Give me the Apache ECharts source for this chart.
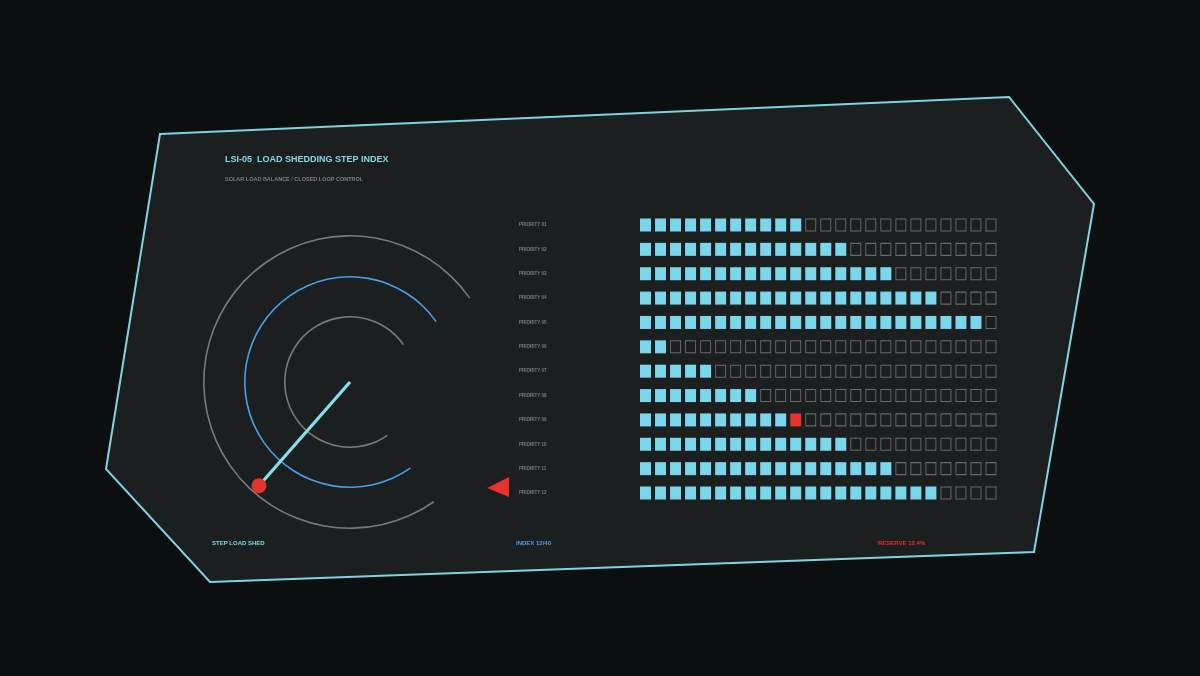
<!DOCTYPE html>
<html>
<head>
<meta charset="utf-8">
<script src="https://cdn.jsdelivr.net/npm/echarts@6/dist/echarts.min.js"></script>
<style>
html,body{margin:0;padding:0;background:#0b0f10;}
#chart{width:1200px;height:676px;}
</style>
</head>
<body>
<div id="chart"></div>
<script>
// ---- data ----
const rowLabels = ['PRIORITY 01','PRIORITY 02','PRIORITY 03','PRIORITY 04','PRIORITY 05','PRIORITY 06','PRIORITY 07','PRIORITY 08','PRIORITY 09','PRIORITY 10','PRIORITY 11','PRIORITY 12'];
const stepCount = 24;
const filledSteps = [11,14,17,20,23,2,5,8,11,14,17,20];
const alertRow = 8;          // PRIORITY 09
const alertStep = 10;        // 11th step (0-based 10)
const gaugeMax = 40;
const needleValue = 11.3;
const titleText = 'LSI-05  LOAD SHEDDING STEP INDEX';
const subtitleText = 'SOLAR LOAD BALANCE / CLOSED LOOP CONTROL';
const footerLeft = 'STEP LOAD SHED';
const footerMid = 'INDEX 12/40';
const footerRight = 'RESERVE 12.4%';

// ---- build ----
const filledData = [], emptyData = [], alertData = [];
rowLabels.forEach((lab, r) => {
  for (let c = 0; c < stepCount; c++) {
    if (r === alertRow && c === alertStep) alertData.push([c, lab]);
    else if (c < filledSteps[r]) filledData.push([c, lab]);
    else emptyData.push([c, lab]);
  }
});

const CYAN = '#7ad6ea';
const chart = echarts.init(document.getElementById('chart'));

function arcGauge(radius, color) {
  return {
    type: 'gauge', center: [350, 382], radius: radius,
    startAngle: 305, endAngle: 35, min: 0, max: gaugeMax,
    silent: true, animation: false,
    axisLine: { lineStyle: { width: 1.6, color: [[1, color]] } },
    axisTick: { show: false }, splitLine: { show: false }, axisLabel: { show: false },
    pointer: { show: false }, anchor: { show: false }, title: { show: false }, detail: { show: false },
    data: [{ value: 0 }]
  };
}

const option = {
  backgroundColor: '#0b0f10',
  animation: false,
  graphic: [
    { type: 'polygon', z: 0, shape: { points: [[160,134],[1009,97],[1094,204],[1034,552],[210,582],[106,469]] },
      style: { fill: '#1b1f1f', stroke: '#7fd3e2', lineWidth: 2 } },
    { type: 'polygon', z: 5, shape: { points: [[487,488],[509,477],[509,497]] }, style: { fill: '#e5322a' } },
    { type: 'text', z: 5, left: 225, top: 155, style: { text: titleText, fill: '#80d8e8', font: 'bold 9px "Liberation Sans"' } },
    { type: 'text', z: 5, left: 225, top: 176, style: { text: subtitleText, fill: '#7c7f80', font: 'bold 5.5px "Liberation Sans"' } },
    { type: 'text', z: 5, left: 212, top: 540, style: { text: footerLeft, fill: '#80d8e8', font: 'bold 6px "Liberation Sans"' } },
    { type: 'text', z: 5, left: 516, top: 540, style: { text: footerMid, fill: '#4aa0e6', font: 'bold 6px "Liberation Sans"' } },
    { type: 'text', z: 5, left: 878, top: 540, style: { text: footerRight, fill: '#e5322a', font: 'bold 6px "Liberation Sans"' } }
  ],
  grid: { left: 638, right: 1200 - 998.5, top: 212.8, bottom: 676 - 505.2 },
  xAxis: { type: 'value', min: -0.5, max: stepCount - 0.5, show: false },
  yAxis: {
    type: 'category', data: rowLabels, inverse: true,
    axisLine: { show: false }, axisTick: { show: false }, splitLine: { show: false },
    axisLabel: { align: 'left', margin: 119, padding: [5, 0, 0, 0], color: '#7c7f80', fontSize: 4.5, fontWeight: 'bold', fontFamily: 'Liberation Sans' }
  },
  series: [
    { type: 'scatter', data: emptyData, symbol: 'rect', symbolSize: [10, 12], z: 3,
      itemStyle: { color: 'rgba(0,0,0,0)', borderColor: '#6a6c6c', borderWidth: 1, opacity: 1 }, silent: true },
    { type: 'scatter', data: filledData, symbol: 'rect', symbolSize: [11, 13], z: 3,
      itemStyle: { color: CYAN, opacity: 1 }, silent: true },
    { type: 'scatter', data: alertData, symbol: 'rect', symbolSize: [11, 13], z: 3,
      itemStyle: { color: '#e5322a', opacity: 1 }, silent: true },
    arcGauge(147, '#7a7a7a'),
    arcGauge(106, '#4a9fe6'),
    arcGauge(66, '#7a7a7a'),
    {
      type: 'gauge', center: [350, 382], radius: 147, z: 4,
      startAngle: 305, endAngle: 35, min: 0, max: gaugeMax, animation: false, silent: true,
      axisLine: { show: false }, axisTick: { show: false }, splitLine: { show: false }, axisLabel: { show: false },
      pointer: { show: true, icon: 'rect', length: 138, width: 3.2, offsetCenter: [0, 0] },
      itemStyle: { color: '#86e0ec' },
      anchor: { show: false }, title: { show: false }, detail: { show: false },
      data: [{ value: needleValue }]
    },
    {
      type: 'gauge', center: [350, 382], radius: 147, z: 5,
      startAngle: 305, endAngle: 35, min: 0, max: gaugeMax, animation: false, silent: true,
      axisLine: { show: false }, axisTick: { show: false }, splitLine: { show: false }, axisLabel: { show: false },
      pointer: { show: true, icon: 'circle', length: 15, width: 15, offsetCenter: [0, -130.5] },
      itemStyle: { color: '#e5322a' },
      anchor: { show: false }, title: { show: false }, detail: { show: false },
      data: [{ value: needleValue }]
    }
  ]
};
chart.setOption(option);
</script>
</body>
</html>
